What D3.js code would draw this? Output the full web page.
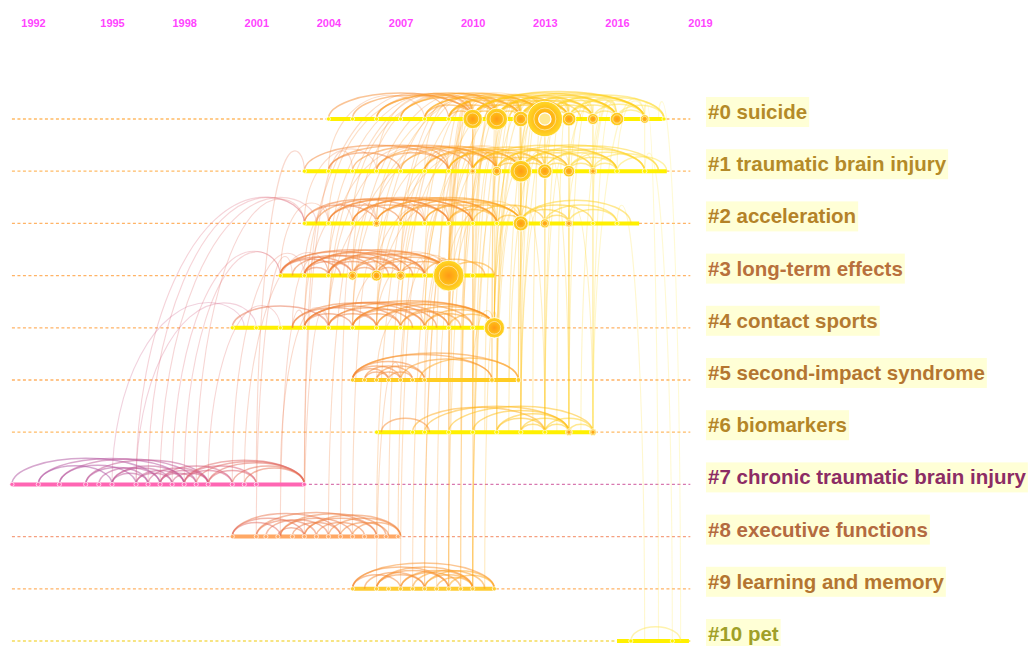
<!DOCTYPE html>
<html>
<head>
<meta charset="utf-8">
<script src="https://cdn.jsdelivr.net/npm/d3@7"></script>
<style>
  body { margin: 0; background: #fff; }
  svg { display: block; }
</style>
</head>
<body>
<svg id="chart" width="1030" height="646"></svg>
<script>
// ---------- data ----------
const clusterLabels = [
  "#0 suicide", "#1 traumatic brain injury", "#2 acceleration", "#3 long-term effects",
  "#4 contact sports", "#5 second-impact syndrome", "#6 biomarkers",
  "#7 chronic traumatic brain injury", "#8 executive functions",
  "#9 learning and memory", "#10 pet"
];
// active period of each cluster (years)
const clusterStart = [2004, 2003, 2003, 2002, 2000, 2005, 2006, 1991.2, 2000, 2005, 2016];
const clusterEnd   = [2017.7, 2017.8, 2016.8, 2010.9, 2010.7, 2011.8, 2015.1, 2003, 2007, 2010.9, 2018.6];
const timelineYears = [1991.2, 2018.65];
const tickYears = [1992, 1995, 1998, 2001, 2004, 2007, 2010, 2013, 2016, 2019];

// cited references: [cluster, year, citations]
const nodes = [
  [0,2004,2],[0,2005,2],[0,2006,2],[0,2007,2],[0,2008,2],[0,2009,2],[0,2010,50],[0,2011,62],
  [0,2012,32],[0,2013,165],[0,2014,26],[0,2015,16],[0,2016,24],[0,2017,10],[0,2017.7,2],
  [1,2003,2],[1,2004,2],[1,2005,2],[1,2006,2],[1,2007,2],[1,2008,2],[1,2009,2],[1,2010,5],
  [1,2011,12],[1,2012,62],[1,2013,28],[1,2014,18],[1,2015,7],[1,2016,3],[1,2017,3],
  [2,2003,2],[2,2004,2],[2,2005,2],[2,2006,7],[2,2007,2],[2,2008,2],[2,2009,2],[2,2010,2],
  [2,2011,2],[2,2012,30],[2,2013,11],[2,2014,7],[2,2015,2],[2,2016,2],
  [3,2002,2],[3,2003,2],[3,2004,2],[3,2005,11],[3,2006,16],[3,2007,11],[3,2008,2],[3,2009,125],[3,2010,3],
  [4,2000,2],[4,2001,2],[4,2002,2],[4,2003,2],[4,2004,2],[4,2005,2],[4,2006,2],[4,2007,2],
  [4,2008,2],[4,2009,2],[4,2010,2],[4,2010.9,55],
  [5,2005,2],[5,2005.5,2],[5,2006,2],[5,2006.5,2],[5,2007,2],[5,2007.5,2],[5,2008,2],[5,2010.8,3],[5,2011.9,3],
  [6,2006,2],[6,2007.5,2],[6,2008,2],[6,2009,2],[6,2010,2],[6,2011,2],[6,2012,2],[6,2013,2],[6,2014,6],[6,2015,6],
  [7,1991.2,2],[7,1992.2,2],[7,1993,2],[7,1994,2],[7,1994.5,2],[7,1995,2],[7,1996,2],[7,1996.5,2],
  [7,1997,2],[7,1997.5,2],[7,1998,2],[7,1998.5,2],[7,1999,2],[7,2000,2],[7,2000.5,2],[7,2001,2],[7,2003,2],
  [8,2000,2],[8,2001,2],[8,2001.4,2],[8,2001.9,2],[8,2002.5,2],[8,2003,2],[8,2003.5,2],[8,2004,2],
  [8,2004.5,2],[8,2005,2],[8,2005.5,2],[8,2006,2],[8,2006.4,2],[8,2006.9,2],
  [9,2005,2],[9,2006,2],[9,2006.5,2],[9,2007,2],[9,2007.5,2],[9,2008,2],[9,2008.5,2],[9,2009,2],
  [9,2009.5,2],[9,2010,2],[9,2010.9,2],
  [10,2016.5,2],[10,2018,2]
];

// co-citation links inside a cluster: [cluster, year A, year B]
const arcs = [
  [0,2004,2010],[0,2005,2010],[0,2006,2011],[0,2007,2011],[0,2008,2012],[0,2008,2013],[0,2009,2012],
  [0,2009,2013],[0,2010,2013],[0,2010,2014],[0,2010,2015],[0,2011,2013],[0,2011,2014],[0,2011,2016],
  [0,2012,2013],[0,2012,2015],[0,2012,2017],[0,2013,2014],[0,2013,2015],[0,2013,2016],[0,2013,2017],
  [0,2014,2016],[0,2014,2017],[0,2015,2017],[0,2016,2017],[0,2010,2012],[0,2011,2012],[0,2012,2014],
  [0,2010,2011],[0,2009,2011],[0,2007,2013],[0,2006,2012],[0,2014,2015],[0,2015,2016],[0,2016,2017.7],
  [0,2011,2015],[0,2010,2016],[0,2009,2014],[0,2010,2017],[0,2011,2017],[0,2012,2016],[0,2013,2017.7],
  [0,2008,2010],[0,2009,2010],[0,2014,2017.7],[0,2012,2013.5],[0,2010.5,2013],[0,2011.5,2014.5],
  [1,2003,2009],[1,2004,2010],[1,2005,2011],[1,2006,2011],[1,2007,2012],[1,2008,2012],[1,2009,2013],
  [1,2010,2012],[1,2010,2014],[1,2011,2013],[1,2011,2015],[1,2012,2014],[1,2012,2015],[1,2012,2016],
  [1,2013,2016],[1,2013,2017],[1,2014,2017],[1,2015,2017.5],[1,2014,2016],[1,2012,2013],[1,2008,2011],
  [1,2009,2012],[1,2013,2014],[1,2011,2012],[1,2016,2017.8],[1,2010,2016],[1,2011,2017],[1,2012,2017.5],
  [1,2010,2013],[1,2009,2014],[1,2014,2015],[1,2015,2016],[1,2006,2009],[1,2004,2007],
  [2,2003,2008],[2,2003.5,2009],[2,2004,2010],[2,2005,2011],[2,2006,2012],[2,2007,2012],[2,2008,2012],
  [2,2009,2012],[2,2010,2013],[2,2012,2014],[2,2012,2015],[2,2013,2016],[2,2012,2016.5],[2,2004,2007],
  [2,2005,2008],[2,2006,2009],[2,2008,2011],[2,2003,2006],[2,2007,2010],[2,2009,2011],[2,2013,2014],
  [2,2014,2016],[2,2011,2012],[2,2004,2009],[2,2005,2010],[2,2006,2011],
  [3,2002,2007],[3,2002.5,2006],[3,2003,2009],[3,2004,2009],[3,2005,2009],[3,2006,2009],[3,2007,2009],
  [3,2003,2005],[3,2004,2006],[3,2005,2007],[3,2006,2008],[3,2002,2004.5],[3,2008,2010.5],[3,2009,2010.9],
  [3,2004,2008],[3,2003,2007.5],[3,2002,2005],[3,2005,2006],[3,2006,2007],[3,2007,2008],[3,2003,2004],
  [3,2002,2008],[3,2003,2006.5],[3,2004,2007],
  [4,2002.5,2008],[4,2003,2009],[4,2004,2010.9],[4,2005,2010],[4,2006,2010.9],[4,2007,2010.9],
  [4,2008,2010.9],[4,2003,2007],[4,2004,2007.5],[4,2005,2008],[4,2006,2009],[4,2002.5,2006],
  [4,2000,2004],[4,2007,2009.5],[4,2009,2010.9],[4,2004,2006],[4,2005,2007],[4,2003,2005],[4,2008,2010],
  [4,2003,2008.5],[4,2005,2010.9],
  [5,2005,2011.9],[5,2005,2010.8],[5,2005,2008],[5,2005.5,2007.5],[5,2006,2008],[5,2005,2006.5],
  [5,2006,2007],[5,2007,2010.8],[5,2007.8,2011.9],[5,2005.5,2006.5],[5,2006.5,2007.5],[5,2005,2007],
  [6,2007.5,2013],[6,2008,2014],[6,2009,2015],[6,2011,2013],[6,2012,2014],[6,2013,2015],[6,2010,2014],
  [6,2006.2,2008.2],[6,2011,2014],[6,2012,2013],[6,2013,2014],[6,2014,2015],
  [7,1991.2,1997],[7,1992.2,1998],[7,1993,1998.5],[7,1994,1999],[7,1995,1997.5],[7,1996,1998],
  [7,1996.5,1999],[7,1997,2000],[7,1994.5,1997],[7,1995,1996.5],[7,1996,1997.5],[7,1997,1998.5],
  [7,1997.5,1999],[7,1998,2003],[7,1998.5,2003],[7,1999,2003],[7,2000,2003],[7,1998,2001],
  [7,1999,2001],[7,1993,1996],[7,1992.2,1995],[7,1994,1996.5],[7,1997,1999],[7,1998,2000],
  [7,2000.5,2003],[7,1995,1998],
  [8,2000,2004.5],[8,2001,2006],[8,2000,2003],[8,2001,2003.5],[8,2001.4,2004],[8,2002,2005],
  [8,2002.5,2004.5],[8,2003,2006],[8,2003,2007],[8,2004,2007],[8,2002,2006.4],[8,2001.9,2003],
  [8,2000,2002],[8,2003.5,2005.5],[8,2004.5,2006.5],[8,2005,2007],
  [9,2005,2010.9],[9,2005,2009],[9,2006,2010],[9,2006,2008],[9,2007,2010],[9,2007,2009.5],
  [9,2008,2010.9],[9,2008,2010],[9,2009,2010.9],[9,2005,2007],[9,2006,2009],[9,2007.5,2010.5],
  [9,2005.5,2008],[9,2008.5,2010],
  [10,2016.5,2018.3]
];

// co-citation links between clusters: [cluster A, year A, cluster B, year B]
const links = [
  [9,2008,3,2009],[9,2009,3,2009],[9,2009,0,2010],[9,2010,0,2010],[9,2010,1,2011],[9,2009.5,2,2010],
  [9,2008.5,4,2009],[9,2007,3,2008],[9,2010.5,4,2011],[9,2006,5,2007],[9,2010,2,2011],[9,2008,1,2010],
  [9,2009,0,2011],[9,2010,0,2012],[9,2009.5,1,2010],[9,2007.5,2,2009],
  [8,2004.5,3,2005],[8,2006.5,2,2008],[8,2003,4,2004],[8,2005,3,2006],[8,2006.9,1,2009],[8,2002,4,2003],
  [8,2001,3,2002.5],[8,2006,0,2010],[8,2004,2,2006],
  [7,1996,2,2003],[7,1996.5,2,2003],[7,1997,2,2003.5],[7,1997.5,3,2002],[7,1998,3,2002],[7,1998.5,2,2003],
  [7,1995,4,2000.5],[7,1999,4,2002],[7,2000,3,2003],[7,2001,1,2003],[7,2003,2,2004],[7,2002,4,2004],
  [7,2000.5,3,2004],[7,1996,4,2001],[7,2003,1,2005],
  [6,2010,0,2011],[6,2011,0,2012],[6,2012,0,2013],[6,2013,0,2013],[6,2013,0,2014],[6,2014,0,2014],
  [6,2014,0,2015],[6,2015,0,2015],[6,2015,0,2016],[6,2012,1,2012],[6,2013,1,2013],[6,2014,1,2014],
  [6,2015,1,2015],[6,2011,1,2012],[6,2013,2,2012],[6,2014,2,2014],[6,2012,2,2013],[6,2009,0,2010],
  [6,2010,1,2011],[6,2011,2,2012],[6,2008,3,2009],[6,2012,0,2012],[6,2014,1,2013],[6,2015,2,2014],
  [6,2013.5,0,2014],[6,2012.5,0,2013],[6,2011.5,1,2013],[6,2014.5,0,2016],[6,2010.5,0,2012],
  [6,2013,1,2014],[6,2015,0,2017],[6,2009.5,1,2011],[6,2012,0,2014],
  [5,2010.8,0,2011],[5,2011.9,0,2012],[5,2011,1,2012],[5,2010,4,2010.9],[5,2008,3,2009],[5,2007,3,2009],
  [5,2009,0,2010],[5,2011.5,0,2013],[5,2011,2,2012],[5,2006,4,2008],[5,2010.8,1,2011],[5,2011.9,1,2013],
  [5,2009,2,2011],[5,2010,0,2011],[5,2011.9,0,2013],[5,2009.5,1,2011],[5,2008.5,0,2010],
  [4,2010.9,0,2011],[4,2010.9,1,2012],[4,2010,0,2010],[4,2009,0,2010],[4,2010.9,0,2013],[4,2004,0,2010],
  [4,2005,0,2011],[4,2006,1,2012],[4,2007,0,2012],[4,2008,1,2011],[4,2003,2,2006],[4,2004,2,2008],
  [4,2005,3,2009],[4,2002.5,3,2004],[4,2006,3,2009],[4,2010.9,2,2012],[4,2009,2,2011],[4,2008,0,2013],
  [4,2004,1,2009],[4,2005,1,2010],[4,2006,0,2011],[4,2007,1,2011],[4,2003,0,2009],[4,2006,2,2010],
  [4,2010.9,0,2012],[4,2010.9,1,2013],
  [3,2009,0,2010],[3,2009,1,2011],[3,2009,2,2012],[3,2010,0,2012],[3,2008,2,2009],[3,2004,0,2010],
  [3,2005,1,2011],[3,2006,0,2012],[3,2003,2,2005],[3,2007,1,2010],[3,2009,0,2013],[3,2009,1,2012],
  [3,2002,2,2004],[3,2006,2,2010],[3,2008,0,2011],[3,2005,0,2010],[3,2006,1,2011],[3,2007,0,2011],
  [3,2004,1,2009],[3,2009,0,2011],[3,2009,1,2010],
  [2,2004,0,2010],[2,2005,0,2011],[2,2006,0,2013],[2,2007,1,2012],[2,2012,0,2013],[2,2012,1,2012],
  [2,2013,0,2014],[2,2008,1,2010],[2,2010,0,2012],[2,2003,1,2006],[2,2009,0,2011],[2,2014,1,2015],
  [2,2011,0,2013],[2,2006,1,2009],[2,2012,0,2012],[2,2014,0,2015],[2,2015,0,2016],[2,2013,1,2013],
  [1,2012,0,2013],[1,2011,0,2011],[1,2013,0,2013],[1,2014,0,2014],[1,2010,0,2010],[1,2015,0,2016],
  [1,2012,0,2012],[1,2016,0,2017],[1,2008,0,2010],[1,2006,0,2009],[1,2004,0,2008],[1,2011,0,2012],
  [1,2013,0,2015],[1,2014,0,2016],[1,2012,0,2014],[1,2010,0,2011],[1,2017,0,2017],[1,2015,0,2015],
  [10,2017.5,0,2017],[10,2018.3,0,2017.5],[10,2018,1,2017],[10,2017,2,2016]
];

// ---------- styles ----------
const barColors   = ["#fff000","#fff000","#fff000","#ffe600","#fff000","#ffcc22","#fff000","#ff66b3","#ffa865","#ffcc33","#fff000"];
const dashColors  = ["#ffbb66","#ffbb66","#ffb366","#ffb366","#ffb366","#ffb366","#ffbb66","#d878b0","#f5a080","#ffb366","#f5dc5a"];
const labelColors = ["#b48a28","#b48a28","#b48228","#b8703c","#b47a30","#b47530","#b48628","#8c2c64","#b46a40","#b47530","#a0a028"];

const svg = d3.select("#chart");

const x = d3.scaleLinear().domain([1992, 1995, 2016, 2019]).range([33, 112, 617, 700]);
const y = d3.scaleLinear().domain([0, 10]).range([119, 641]);
const r = d3.scaleSqrt().domain([0, 180]).range([0, 18.5]);
const linkColor = d3.scaleLinear()
  .domain([1991, 1995, 1999, 2002, 2005, 2008, 2010, 2012, 2014, 2016, 2019])
  .range(["#9a4aa6","#b4509c","#d85a7a","#e8724e","#f07e3a","#f98e26","#ffa81a","#ffbe12","#ffd01c","#ffe040","#fff27a"]);

const defs = svg.append("defs");
const grad = defs.append("radialGradient").attr("id", "nodeGrad");
grad.append("stop").attr("offset", "0%").attr("stop-color", "#ff9a14");
grad.append("stop").attr("offset", "50%").attr("stop-color", "#ffb814");
grad.append("stop").attr("offset", "100%").attr("stop-color", "#ffd828");
const glow = defs.append("filter").attr("id", "soft").attr("x", "-30%").attr("y", "-30%").attr("width", "160%").attr("height", "160%");
glow.append("feGaussianBlur").attr("stdDeviation", 0.6);

// curve rising from one point, over an apex, down to the other
function curve(x1, y1, x2, y2, h) {
  const top = Math.min(y1, y2) - h;
  const a = Math.sqrt(y1 - top), b = Math.sqrt(y2 - top);
  const xa = x1 + (x2 - x1) * a / (a + b);
  const k = 0.5523;
  const p = d3.path();
  p.moveTo(x1, y1);
  p.bezierCurveTo(x1, y1 - k * (y1 - top), xa - k * (xa - x1), top, xa, top);
  p.bezierCurveTo(xa + k * (x2 - xa), top, x2, y2 - k * (y2 - top), x2, y2);
  return p.toString();
}

// year axis
const axis = d3.axisTop(x).tickValues(tickYears).tickFormat(d3.format("d")).tickSize(0).tickPadding(3);
const gAxis = svg.append("g").attr("transform", "translate(0,30)").call(axis);
gAxis.select(".domain").remove();
gAxis.selectAll("text")
  .attr("fill", "#ff44ff")
  .style("font", "bold 11px 'Liberation Sans', Arial, sans-serif");

// dashed cluster guides
svg.append("g").selectAll("line").data(clusterLabels).join("line")
  .attr("x1", x(timelineYears[0])).attr("x2", x(timelineYears[1]))
  .attr("y1", (d, i) => y(i)).attr("y2", (d, i) => y(i))
  .attr("stroke", (d, i) => dashColors[i])
  .attr("stroke-width", 1.3)
  .attr("stroke-dasharray", "3,2.5");

// links between clusters
svg.append("g").attr("fill", "none").selectAll("path").data(links).join("path")
  .attr("d", d => {
    const x1 = x(d[1]), y1 = y(d[0]), x2 = x(d[3]), y2 = y(d[2]);
    const h = 14 + 14 * (1 - Math.exp(-Math.abs(x2 - x1) / 80));
    return curve(x1, y1, x2, y2, h);
  })
  .attr("stroke", d => linkColor((d[1] + d[3]) / 2))
  .attr("stroke-width", 1.1)
  .attr("stroke-opacity", 0.27);

// active period bars
svg.append("g").selectAll("line").data(clusterLabels).join("line")
  .attr("x1", (d, i) => x(clusterStart[i])).attr("x2", (d, i) => x(clusterEnd[i]))
  .attr("y1", (d, i) => y(i)).attr("y2", (d, i) => y(i))
  .attr("stroke", (d, i) => barColors[i])
  .attr("stroke-width", 4);

// links within clusters
svg.append("g").attr("fill", "none").selectAll("path").data(arcs).join("path")
  .attr("d", d => {
    const x1 = x(d[1]), x2 = x(d[2]), yy = y(d[0]);
    const h = 31 * (1 - Math.exp(-Math.abs(x2 - x1) / 80));
    return curve(x1, yy, x2, yy, h);
  })
  .attr("stroke", d => linkColor((d[1] + d[2]) / 2))
  .attr("stroke-width", 1.5)
  .attr("stroke-opacity", 0.5);

// references
const gNodes = svg.append("g");
const small = nodes.filter(d => d[2] < 5);
const big = nodes.filter(d => d[2] >= 5).sort((a, b) => a[2] - b[2]);
gNodes.selectAll("circle.small").data(small).join("circle")
  .attr("class", "small")
  .attr("cx", d => x(d[1])).attr("cy", d => y(d[0]))
  .attr("r", d => Math.max(2.1, r(d[2])))
  .attr("fill", d => barColors[d[0]])
  .attr("stroke", "#fff").attr("stroke-opacity", 0.85).attr("stroke-width", 0.8);
const gBig = gNodes.selectAll("g.big").data(big).join("g")
  .attr("class", "big")
  .attr("filter", "url(#soft)")
  .attr("transform", d => `translate(${x(d[1])},${y(d[0])})`);
gBig.append("circle")
  .attr("r", d => r(d[2]))
  .attr("fill", "url(#nodeGrad)")
  .attr("stroke", "#fff").attr("stroke-opacity", 0.8).attr("stroke-width", 1);
gBig.append("circle")
  .attr("r", d => r(d[2]) * 0.62)
  .attr("fill", "none")
  .attr("stroke", "#fff").attr("stroke-opacity", 0.5).attr("stroke-width", 1);
gBig.filter(d => d[2] > 150 && d[0] === 0).append("circle")
  .attr("r", d => r(d[2]) * 0.35)
  .attr("fill", "#ffe890")
  .attr("stroke", "#fff").attr("stroke-width", 1.2);

// cluster labels
const gLab = svg.append("g");
clusterLabels.forEach((label, i) => {
  const g = gLab.append("g").attr("transform", `translate(706,${y(i)})`);
  const bg = g.append("rect").attr("fill", "#ffffd6");
  const t = g.append("text")
    .attr("x", 2).attr("y", 0)
    .attr("fill", labelColors[i])
    .style("font", "bold 20.5px 'Liberation Sans', Arial, sans-serif")
    .text(label);
  const w = t.node().getComputedTextLength();
  bg.attr("x", 0).attr("y", -22).attr("width", w + 4).attr("height", 30);
});
</script>
</body>
</html>
